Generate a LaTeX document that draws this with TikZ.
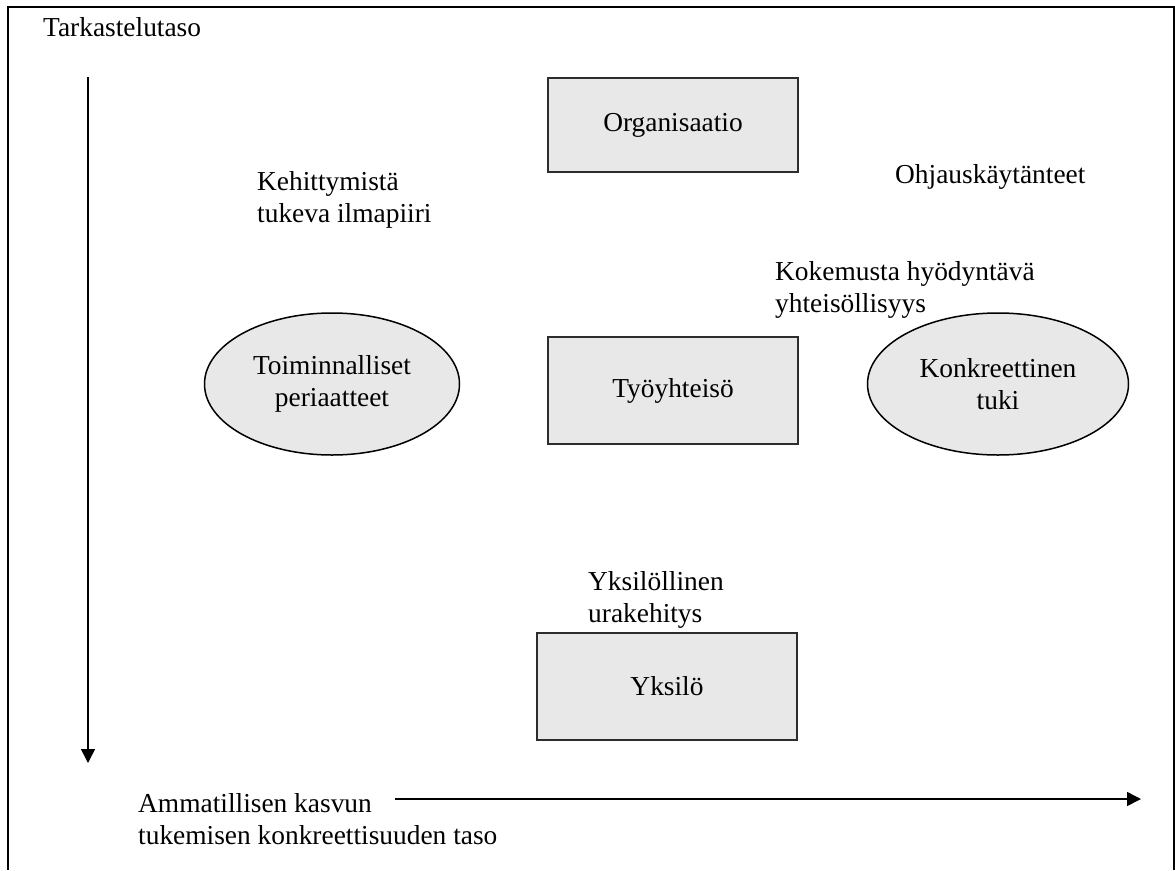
\documentclass[tikz,border=0pt]{standalone}
\usepackage{fontspec}
\setmainfont{Liberation Serif}
\usetikzlibrary{arrows.meta, positioning, shapes.geometric}
\definecolor{boxgray}{RGB}{232,232,232}
\definecolor{edgegray}{RGB}{45,45,45}

\begin{document}
\begin{tikzpicture}[
  x=1pt, y=-1pt,
  font=\fontsize{27.4}{32}\selectfont,
  box/.style={rectangle, draw=edgegray, line width=2pt, fill=boxgray,
    minimum width=250pt, minimum height=#1, align=center, inner sep=0pt},
  oval/.style={ellipse, draw=black, line width=1.5pt, fill=boxgray,
    minimum width=#1, minimum height=142pt, align=center, inner sep=0pt},
  lbl/.style={anchor=north west, align=left, inner sep=0pt},
  arr/.style={-{Triangle[length=14pt, width=14pt]}, line width=1.5pt}
]
\useasboundingbox (0,0) rectangle (1175,870);
\draw[line width=2pt] (8,870) -- (8,7) -- (1174,7) -- (1174,870);

% levels
\node[box=94pt] (org) at (673,125) {Organisaatio};
\node[box=107pt] (tyo) at (673,390.5) {Työyhteisö};
\node[box=107pt, minimum width=260pt] (yks) at (667,686.5) {Yksilö};
\node[oval=255pt] (toim) at (332,384) {Toiminnalliset\\periaatteet};
\node[oval=261pt] (konk) at (998,384) {Konkreettinen\\tuki};

% labels
\node[lbl] (taso) at (43,17) {Tarkastelutaso};
\node[lbl] (ilma) at (257,171) {Kehittymistä\\tukeva ilmapiiri};
\node[lbl] (ohja) at (895,164) {Ohjauskäytänteet};
\node[lbl] (yhte) at (775,261) {Kokemusta hyödyntävä\\yhteisöllisyys};
\node[lbl] (ura) at (588,571) {Yksilöllinen\\urakehitys};
\node[lbl] (kasvu) at (138,793) {Ammatillisen kasvun\\tukemisen konkreettisuuden taso};

% axes
\coordinate (vtop) at (88,77);
\coordinate (vbot) at (88,763);
\coordinate (hstart) at (395,799);
\coordinate (hend) at (1141,799);
\draw[arr] (vtop) -- (vbot);
\draw[arr] (hstart) -- (hend);
\end{tikzpicture}
\end{document}
